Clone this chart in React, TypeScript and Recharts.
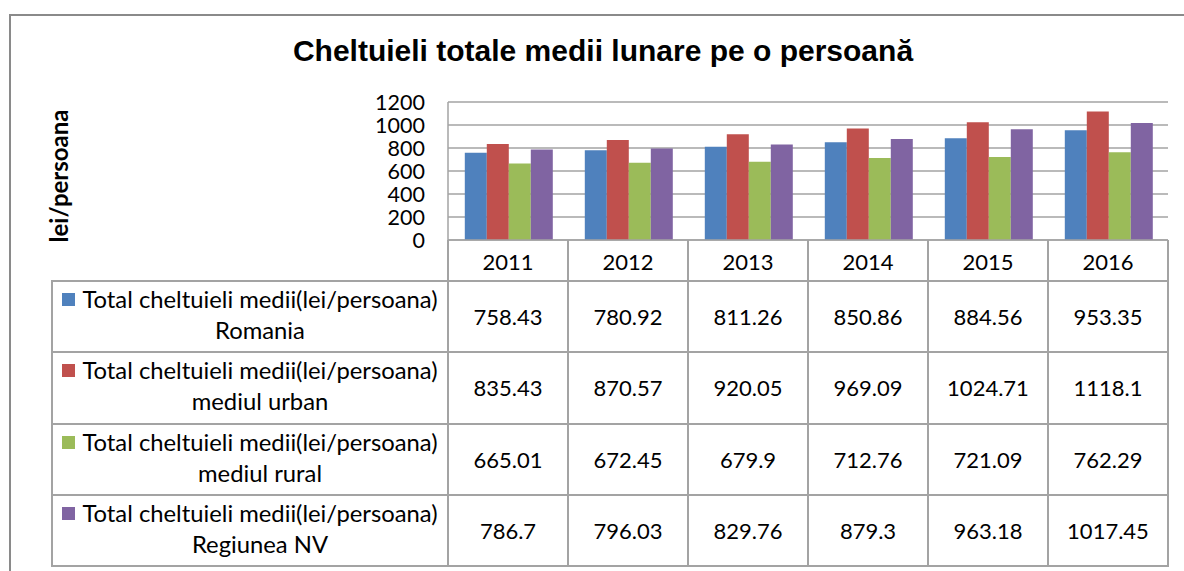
import React from "react"
import { Bar, BarChart, CartesianGrid, XAxis, YAxis } from "recharts"

const years = ["2011", "2012", "2013", "2014", "2015", "2016"]
const romania = [758.43, 780.92, 811.26, 850.86, 884.56, 953.35]
const urban = [835.43, 870.57, 920.05, 969.09, 1024.71, 1118.1]
const rural = [665.01, 672.45, 679.9, 712.76, 721.09, 762.29]
const regiuneaNV = [786.7, 796.03, 829.76, 879.3, 963.18, 1017.45]
const yTicks = [0, 200, 400, 600, 800, 1000, 1200]

const seriesKeys = ["romania", "urban", "rural", "nv"]
const seriesLabels = [
  ["Total cheltuieli medii(lei/persoana)", "Romania"],
  ["Total cheltuieli medii(lei/persoana)", "mediul urban"],
  ["Total cheltuieli medii(lei/persoana)", "mediul rural"],
  ["Total cheltuieli medii(lei/persoana)", "Regiunea NV"],
]
const seriesValues = [romania, urban, rural, regiuneaNV]
const colors = ["#4F81BD", "#C0504D", "#9BBB59", "#8064A2"]

const data = years.map((year, i) => ({
  year,
  romania: romania[i],
  urban: urban[i],
  rural: rural[i],
  nv: regiuneaNV[i],
}))

const font = "Lato, 'Open Sans', sans-serif"
const lineColor = "#a3a3a3"

// plot geometry (page px)
const plotLeft = 448
const plotRight = 1168
const colW = (plotRight - plotLeft) / years.length
const headTop = 240
const bodyTop = 281
const rowH = 71.25
const tableLeft = 52

function DataTable() {
  const lines: React.ReactNode[] = []
  const bottom = bodyTop + rowH * seriesValues.length
  // vertical lines
  for (let c = 0; c <= years.length; c++) {
    lines.push(
      <div key={"v" + c} style={{ position: "absolute", left: plotLeft + c * colW - 1, top: headTop, width: 2, height: bottom - headTop + 1, background: lineColor }} />
    )
  }
  lines.push(
    <div key="vl" style={{ position: "absolute", left: tableLeft - 1, top: bodyTop, width: 2, height: bottom - bodyTop + 1, background: lineColor }} />
  )
  for (let r = 0; r <= seriesValues.length; r++) {
    const y = Math.round(bodyTop + r * rowH)
    lines.push(
      <div key={"h" + r} style={{ position: "absolute", left: tableLeft - 1, top: y - 1, width: plotRight - tableLeft + 2, height: 2, background: lineColor }} />
    )
  }
  const cells: React.ReactNode[] = []
  seriesValues.forEach((vals, r) => {
    const top = Math.round(bodyTop + r * rowH)
    cells.push(
      <div key={"lab" + r} style={{ position: "absolute", left: tableLeft, top, width: plotLeft - tableLeft, height: rowH }}>
        <div style={{ position: "absolute", left: 10, top: 12, width: 13, height: 13, background: colors[r] }} />
        <div style={{ position: "absolute", left: 28, top: 3, width: 360, textAlign: "center", lineHeight: "31px", fontSize: 23.8, whiteSpace: "nowrap" }}>
          {seriesLabels[r][0]}
          <br />
          {seriesLabels[r][1]}
        </div>
      </div>
    )
    vals.forEach((v, c) => {
      cells.push(
        <div key={"c" + r + "-" + c} style={{ position: "absolute", left: plotLeft + c * colW, top, width: colW, height: rowH, display: "flex", alignItems: "center", justifyContent: "center", fontSize: 22 }}>
          {String(v)}
        </div>
      )
    })
  })
  return (
    <div style={{ position: "absolute", left: 0, top: 0, fontFamily: font, color: "#000" }}>
      {lines}
      {cells}
    </div>
  )
}

export default function App() {
  return (
    <div style={{ position: "absolute", left: 0, top: 0, width: 1184, height: 571, overflow: "hidden", background: "#fff" }}>
      <div style={{ position: "absolute", left: 9, top: 14, width: 1300, height: 700, borderTop: "2px solid #8a8a8a", borderLeft: "2px solid #8a8a8a" }} />
      <div style={{ position: "absolute", left: 0, top: 33, width: 1206, textAlign: "center", fontFamily: "'Liberation Sans', Arial, sans-serif", fontWeight: "bold", fontSize: 30, lineHeight: "36px" }}>
        Cheltuieli totale medii lunare pe o persoană
      </div>
      <div style={{ position: "absolute", left: 58, top: 176, transform: "translate(-50%, -50%) rotate(-90deg)", fontFamily: font, fontWeight: "bold", fontSize: 24, whiteSpace: "nowrap" }}>
        lei/persoana
      </div>
      <div style={{ position: "absolute", left: 0, top: 0 }}>
        <BarChart width={1184} height={290} data={data} margin={{ top: 102, right: 1184 - plotRight, bottom: 9, left: 0 }} barCategoryGap="14%" barGap={0}>
          <CartesianGrid vertical={false} stroke={lineColor} strokeWidth={1.5} />
          <XAxis dataKey="year" height={41} tickLine={false} tickSize={0} tickMargin={14} axisLine={{ stroke: lineColor, strokeWidth: 1.5 }} tick={{ fill: "#000", fontSize: 22, fontFamily: font }} interval={0} />
          <YAxis width={plotLeft} domain={[0, 1200]} ticks={yTicks} interval={0} tickLine={false} tickSize={0} tickMargin={23} axisLine={{ stroke: lineColor, strokeWidth: 1.5 }} tick={{ fill: "#000", fontSize: 21.5, fontFamily: font }} />
          {seriesKeys.map((k, i) => (
            <Bar key={k} dataKey={k} fill={colors[i]} isAnimationActive={false} />
          ))}
        </BarChart>
      </div>
      <DataTable />
    </div>
  )
}
